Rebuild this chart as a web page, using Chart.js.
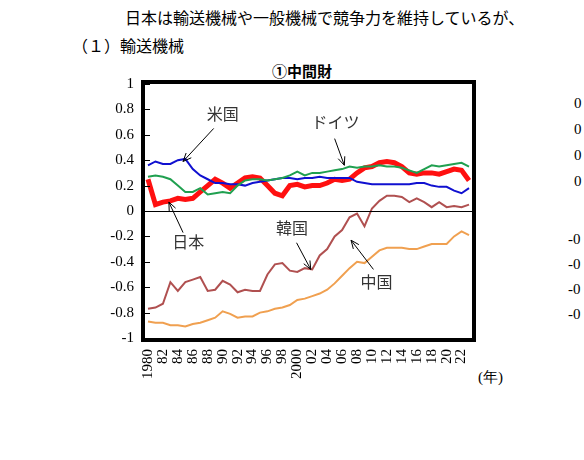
<!DOCTYPE html><html><head><meta charset="utf-8">
<script src="https://cdn.jsdelivr.net/npm/chart.js@4"></script>
<style>body{margin:0;width:584px;height:460px;background:#fff;position:relative;overflow:hidden;font-family:"Noto Sans CJK JP";}
.t{position:absolute;white-space:nowrap;color:#000}
</style></head><body>
<div class="t" style="left:125px;top:5px;font-size:16px">日本は輸送機械や一般機械で競争力を維持しているが、</div>
<div class="t" style="left:72px;top:33px;font-size:16px">（１）輸送機械</div>
<div class="t" style="left:272px;top:60px;font-size:15px;font-weight:bold">①中間財</div>
<div class="t" style="left:478px;top:368px;font-size:15px;font-family:'Liberation Serif'">(年)</div>
<div class="t" style="left:574px;top:90px;font-size:15px;font-family:'Liberation Serif';line-height:26px">0<br>0<br>0<br>0</div>
<div class="t" style="left:568px;top:227px;font-size:15px;font-family:'Liberation Serif';line-height:25px">-0<br>-0<br>-0<br>-0</div>
<div style="position:absolute;left:100px;top:60px;width:400px;height:380px"><canvas id="c"></canvas></div>
<script>
const years=[];for(let y=1980;y<=2023;y++)years.push(y);
const japan=[0.25,0.05,0.07,0.08,0.1,0.09,0.1,0.15,0.2,0.25,0.22,0.18,0.22,0.26,0.27,0.26,0.2,0.14,0.12,0.2,0.21,0.19,0.2,0.2,0.22,0.25,0.24,0.25,0.3,0.34,0.35,0.38,0.39,0.38,0.35,0.3,0.29,0.3,0.3,0.29,0.31,0.33,0.32,0.24];
const usa=[0.36,0.39,0.37,0.37,0.4,0.41,0.33,0.28,0.25,0.22,0.22,0.21,0.21,0.2,0.22,0.23,0.24,0.25,0.26,0.26,0.25,0.26,0.26,0.27,0.26,0.26,0.26,0.26,0.23,0.22,0.21,0.21,0.21,0.21,0.21,0.21,0.22,0.22,0.2,0.19,0.19,0.16,0.14,0.18];
const germany=[0.27,0.28,0.27,0.25,0.2,0.15,0.15,0.18,0.13,0.14,0.15,0.14,0.2,0.24,0.25,0.25,0.24,0.25,0.26,0.28,0.31,0.28,0.3,0.3,0.31,0.32,0.33,0.35,0.34,0.35,0.35,0.36,0.35,0.35,0.34,0.32,0.3,0.33,0.36,0.35,0.36,0.37,0.38,0.35];
const korea=[-0.77,-0.76,-0.73,-0.56,-0.63,-0.56,-0.54,-0.52,-0.63,-0.62,-0.55,-0.58,-0.64,-0.62,-0.63,-0.63,-0.5,-0.42,-0.41,-0.47,-0.48,-0.45,-0.46,-0.35,-0.3,-0.2,-0.15,-0.05,-0.02,-0.12,0.02,0.08,0.12,0.12,0.11,0.07,0.1,0.07,0.03,0.07,0.03,0.04,0.03,0.05];
const china=[-0.87,-0.88,-0.88,-0.9,-0.9,-0.91,-0.89,-0.88,-0.86,-0.84,-0.79,-0.81,-0.84,-0.83,-0.83,-0.8,-0.79,-0.77,-0.76,-0.74,-0.7,-0.69,-0.67,-0.65,-0.62,-0.57,-0.51,-0.45,-0.4,-0.41,-0.36,-0.31,-0.29,-0.29,-0.29,-0.3,-0.3,-0.28,-0.26,-0.26,-0.26,-0.2,-0.16,-0.19];
const yTicks=[1,0.8,0.6,0.4,0.2,0,-0.2,-0.4,-0.6,-0.8,-1];
const notes=[
 {text:'米国',tx:1990,ty:0.75,x1:1988.8,y1:0.65,x2:1984.7,y2:0.39},
 {text:'ドイツ',tx:2005.1,ty:0.69,x1:2005.0,y1:0.57,x2:2006.3,y2:0.36},
 {text:'日本',tx:1985.4,ty:-0.26,x1:1984.7,y1:-0.17,x2:1982.8,y2:0.07},
 {text:'韓国',tx:1999.3,ty:-0.15,x1:1999.9,y1:-0.25,x2:2001.8,y2:-0.46},
 {text:'中国',tx:2010.6,ty:-0.57,x1:2010.2,y1:-0.46,x2:2007.2,y2:-0.23}];
const mk=(d,c,w)=>({data:d.map((v,i)=>({x:years[i],y:v})),borderColor:c,borderWidth:w,pointRadius:0,tension:0,fill:false});
const deco={id:'deco',afterDatasetsDraw(ch){const {ctx,chartArea:a,scales:{x,y}}=ch;ctx.save();
 const z=Math.round(y.getPixelForValue(0))+0.5;
 ctx.strokeStyle='#000';ctx.lineWidth=1;ctx.beginPath();ctx.moveTo(a.left,z);ctx.lineTo(a.right,z);ctx.stroke();
 for(const v of yTicks){const p=Math.round(y.getPixelForValue(v))+0.5;ctx.beginPath();ctx.moveTo(a.left,p);ctx.lineTo(a.left+5,p);ctx.stroke();}
 ctx.font='16px "Liberation Serif","Noto Sans CJK JP"';ctx.fillStyle='#333';ctx.textAlign='center';ctx.textBaseline='middle';
 for(const n of notes){ctx.fillText(n.text,x.getPixelForValue(n.tx),y.getPixelForValue(n.ty));
  const X1=x.getPixelForValue(n.x1),Y1=y.getPixelForValue(n.y1),X2=x.getPixelForValue(n.x2),Y2=y.getPixelForValue(n.y2);
  ctx.strokeStyle='#000';ctx.lineWidth=1;ctx.beginPath();ctx.moveTo(X1,Y1);ctx.lineTo(X2,Y2);ctx.stroke();
  const an=Math.atan2(Y2-Y1,X2-X1);ctx.beginPath();ctx.moveTo(X2-9*Math.cos(an-0.4),Y2-9*Math.sin(an-0.4));ctx.lineTo(X2,Y2);ctx.lineTo(X2-9*Math.cos(an+0.4),Y2-9*Math.sin(an+0.4));ctx.stroke();}
 ctx.lineWidth=4;ctx.strokeRect(a.left-2,a.top-2,a.right-a.left+4,a.bottom-a.top+4);ctx.restore();}};
new Chart(document.getElementById('c'),{type:'line',
 data:{datasets:[mk(china,'#f0a050',2),mk(korea,'#b05050',2),mk(germany,'#20a050',2),mk(usa,'#1010d0',2),mk(japan,'#ff1010',5)]},
 options:{responsive:true,maintainAspectRatio:false,animation:false,layout:{padding:{top:24,right:28,left:0,bottom:0}},
  plugins:{legend:{display:false},tooltip:{enabled:false}},
  scales:{x:{type:'linear',min:1979.6,max:2023.4,afterBuildTicks(s){s.ticks=years.filter(v=>v%2==0).map(v=>({value:v}));},
    afterFit(s){s.height=102;},grid:{display:false},border:{display:false},
    ticks:{autoSkip:false,minRotation:90,maxRotation:90,color:'#000',font:{family:'Liberation Serif',size:15},callback:v=>v==1980||v==2000?String(v):String(v).slice(2)}},
   y:{min:-1,max:1,afterBuildTicks(s){s.ticks=yTicks.map(v=>({value:v}));},afterFit(s){s.width=45;},
    grid:{display:false,drawTicks:true},border:{display:false},
    ticks:{color:'#000',font:{family:'Liberation Serif',size:15},callback:v=>v==0?'0':(v==1||v==-1)?String(v):v.toFixed(1)}}}},
 plugins:[deco]});
</script></body></html>
